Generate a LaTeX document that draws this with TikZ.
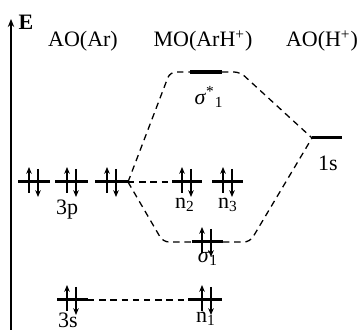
\documentclass[tikz,border=0pt]{standalone}
\usepackage{fontspec}
\setmainfont{Liberation Serif}
\usetikzlibrary{arrows.meta}
\tikzset{
  lvl/.style={line width=1.5pt},
  conn/.style={dash pattern=on 3.2pt off 2.4pt, line width=0.65pt, rounded corners=3pt},
  spinup/.style={-{Stealth[length=3.4pt,width=2.8pt]}, line width=0.6pt},
  lab/.style={inner sep=0pt, font=\fontsize{11}{13}\selectfont},
  axis/.style={-{Stealth[length=4pt,width=3.2pt]}, line width=0.7pt}
}
\newcommand{\spinpair}[2]{%
  \draw[spinup] (#1-5,#2+11) -- (#1-5,#2-15);
  \draw[spinup] (#1+4,#2-13) -- (#1+4,#2+15);
}
\begin{document}
\begin{tikzpicture}[x=0.5pt,y=-0.5pt]
\useasboundingbox (0,0) rectangle (358,330);
\clip (0,0) rectangle (358,330);
% axis
\coordinate (axb) at (11,335);
\coordinate (axt) at (11,19);
\draw[axis] (axb) -- (axt);
\node[lab, font=\fontsize{11}{13}\selectfont\bfseries] (E) at (26,22) {E};
% headers
\node[lab] (hAr) at (83,41) {AO(Ar)};
\node[lab] (hMO) at (203,41) {MO(ArH\textsuperscript{+})};
\node[lab] (hH) at (322,41) {AO(H\textsuperscript{+})};
% level end points
\coordinate (pal) at (18,182);  \coordinate (par) at (50,182);
\coordinate (pbl) at (55,182);  \coordinate (pbr) at (88,182);
\coordinate (pcl) at (95,182);  \coordinate (pcr) at (128,182);
\coordinate (n2l) at (172,182); \coordinate (n2r) at (202,182);
\coordinate (n3l) at (212,182); \coordinate (n3r) at (243,182);
\coordinate (ssl) at (190,72);  \coordinate (ssr) at (222,72);
\coordinate (s1l) at (192,242); \coordinate (s1r) at (223,242);
\coordinate (hsl) at (312,138); \coordinate (hsr) at (342,138);
\coordinate (tsl) at (57,300);  \coordinate (tsr) at (88,300);
\coordinate (n1l) at (188,300); \coordinate (n1r) at (222,300);
% connectors
\draw[conn] (pcr) -- (170,72) -- (ssl);
\draw[conn] (ssr) -- (240,72) -- (hsl);
\draw[conn] (pcr) -- (163,242) -- (s1l);
\draw[conn] (s1r) -- (250,242) -- (hsl);
\draw[conn] (pcr) -- (n2l);
\draw[conn] (tsr) -- (n1l);
% levels
\foreach \a/\b in {pal/par,pbl/pbr,pcl/pcr,n2l/n2r,n3l/n3r,s1l/s1r,hsl/hsr,tsl/tsr,n1l/n1r}
  \draw[lvl] (\a) -- (\b);
\draw[line width=1.8pt] (ssl) -- (ssr);
% spins
\spinpair{34}{182}
\spinpair{72}{182}
\spinpair{112}{182}
\spinpair{187}{182}
\spinpair{228}{182}
\spinpair{207}{242}
\spinpair{72}{300}
\spinpair{207}{300}
% labels
\node[lab] (l3p) at (67,210) {3p};
\node[lab] (ln2) at (185,205) {n\textsubscript{2}};
\node[lab] (ln3) at (228,205) {n\textsubscript{3}};
\node[lab] (lss) at (209,97) {\textit{σ}\textsuperscript{*}\textsubscript{1}};
\node[lab] (ls1) at (208,258) {\textit{σ}\textsubscript{1}};
\node[lab] (l1s) at (328,163) {1s};
\node[lab] (l3s) at (68,320) {3s};
\node[lab] (ln1) at (206,319) {n\textsubscript{1}};
\end{tikzpicture}
\end{document}
